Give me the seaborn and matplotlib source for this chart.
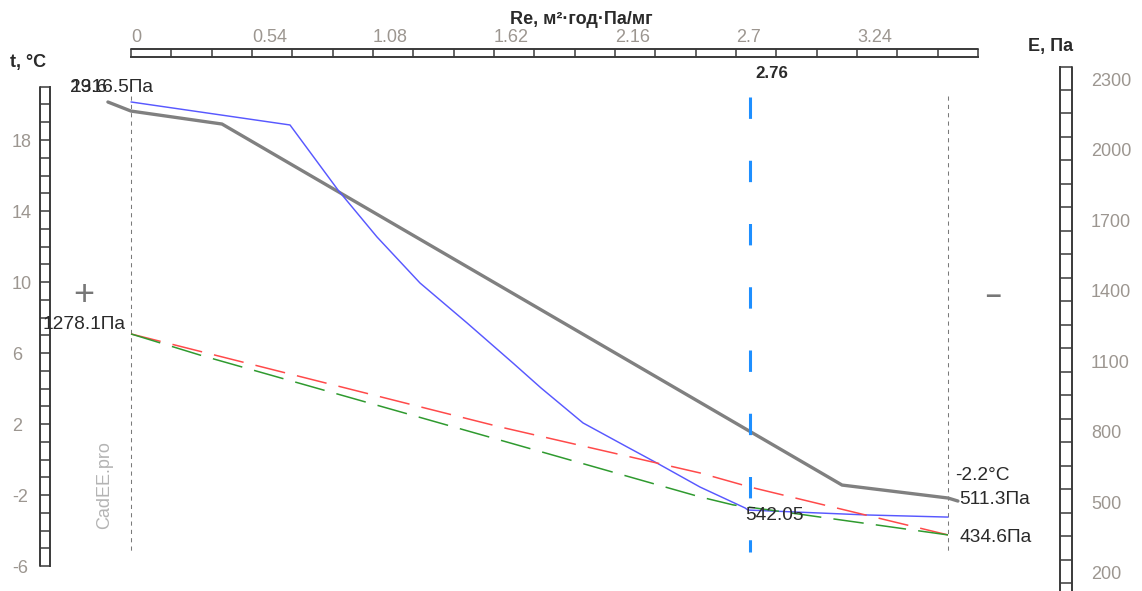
import numpy as np
import pandas as pd
import matplotlib
matplotlib.use("Agg")
import matplotlib.pyplot as plt
import matplotlib.transforms as mtransforms
from matplotlib.lines import Line2D
import seaborn as sns

# ---------------- data ----------------
# temperature profile t (°C) along Re
re_t = [-0.103, 0.0, 0.406, 3.173, 3.646, 3.690]
t_vals = [20.14, 19.63, 18.90, -1.44, -2.17, -2.34]

# saturation pressure E (Pa) along Re
re_e = [0.0, 0.7095, 0.9237, 1.0977, 1.2896, 1.4993, 1.7046, 1.8295,
        2.0170, 2.2133, 2.3472, 2.5391, 2.7399, 2.7532, 3.2843, 3.6457]
e_sat = [2249, 2151, 1874, 1674, 1478, 1308, 1137, 1031,
         882, 780, 711, 609, 520, 511, 490, 481]

# partial pressure (red) and its second curve (green)
re_red = [0.0, 1.6466, 2.539, 2.762, 3.6457]
e_red = [1261, 865, 669, 609, 405]
re_green = [0.0, 0.3079, 1.6466, 2.539, 2.6863, 3.6457]
e_green = [1261, 1171, 809, 567, 533, 405]

re_marker = 2.76
layer_bounds = [0.0, 3.6457]
guide_t = (20.5, -5.35)
marker_t = (20.42, -5.21)

x_ticks = [round(0.18 * i, 2) for i in range(22)]
x_labels = ["0", "0.54", "1.08", "1.62", "2.16", "2.7", "3.24"]
t_ticks = list(range(-6, 22))
t_labels = [18, 14, 10, 6, 2, -2, -6]
e_ticks = list(range(200, 2500, 100))
e_labels = [2300, 2000, 1700, 1400, 1100, 800, 500, 200]

# ---------------- style ----------------
sns.set_theme(style="white")
plt.rcParams["font.family"] = ["Liberation Sans", "DejaVu Sans"]

W, H = 1142, 591
fig = plt.figure(figsize=(W / 100, H / 100), dpi=100)

def fx(x):
    return x / W

def fy(y):
    return 1 - y / H

# axes box: left spine at x=50px, right at 980px, top at y=57px, bottom at 591px
ax = fig.add_axes([fx(50), 0, fx(980) - fx(50), fy(57)])
ax.set_xlim(-0.36145, 3.78849)
ax.set_ylim(-7.408, 22.676)
ax2 = ax.twinx()
ax2.set_ylim(166.2, 2440.5)

grey_txt = "#9c9690"
dark = "#2a2a2a"
ladder = "#3a3a3a"

# ---------------- lines ----------------
sns.lineplot(data=pd.DataFrame({"Re": re_t, "t": t_vals}), x="Re", y="t",
             ax=ax, sort=False, estimator=None, color="#808080", lw=2.4)
sns.lineplot(data=pd.DataFrame({"Re": re_e, "E": e_sat}), x="Re", y="E",
             ax=ax2, sort=False, estimator=None, color="#5858ff", lw=1.05)
sns.lineplot(data=pd.DataFrame({"Re": re_red, "E": e_red}), x="Re", y="E",
             ax=ax2, sort=False, estimator=None, color="#ff4a4a", lw=1.1,
             linestyle=(0, (20, 8)))
sns.lineplot(data=pd.DataFrame({"Re": re_green, "E": e_green}), x="Re", y="E",
             ax=ax2, sort=False, estimator=None, color="#2f9a2f", lw=1.1,
             linestyle=(0, (20, 8)))

for xb in layer_bounds:
    ax.plot([xb, xb], list(guide_t), color="#7a7a7a", lw=0.75,
            linestyle=(0, (4, 4)), zorder=1)
ax.plot([re_marker, re_marker], list(marker_t), color="#1e8fff", lw=2.2,
        linestyle=(0, (7, 13.7)), solid_capstyle="butt", dash_capstyle="butt")

for a in (ax, ax2):
    a.set_xlabel("")
    a.set_ylabel("")
    a.grid(False)

# ---------------- ruler axes ----------------
for s in ("bottom", "right"):
    ax.spines[s].set_visible(False)
for s in ("bottom", "left", "top"):
    ax2.spines[s].set_visible(False)

ax.spines["left"].set_bounds(-6, 21)
ax.spines["top"].set_bounds(0, 3.78)
for s in ("left", "top"):
    ax.spines[s].set_color(ladder)
    ax.spines[s].set_linewidth(1.4)
ax2.spines["right"].set_position(("outward", 80 * 0.72))
ax2.spines["right"].set_bounds(166.2, 2400)
ax2.spines["right"].set_color(ladder)
ax2.spines["right"].set_linewidth(1.4)

ax.xaxis.tick_top()
ax.set_xticks(x_ticks)
ax.set_xticklabels([s if s in x_labels else "" for s in
                    [("0" if v == 0 else ("%g" % v)) for v in x_ticks]])
ax.tick_params(axis="x", which="major", direction="out", length=8 * 0.72,
               width=1.1, color=ladder, pad=2, labelsize=13,
               labelcolor=grey_txt, top=True, bottom=False,
               labeltop=True, labelbottom=False)
for lab in ax.get_xticklabels():
    lab.set_ha("left")

ax.set_yticks(t_ticks)
ax.set_yticklabels([str(v) if v in t_labels else "" for v in t_ticks])
ax.tick_params(axis="y", direction="out", length=10 * 0.72, width=1.1,
               color=ladder, pad=28 * 0.72, labelsize=13,
               labelcolor=grey_txt, left=True, right=False)
for lab in ax.get_yticklabels():
    lab.set_ha("left")

ax2.set_yticks(e_ticks)
ax2.set_yticklabels([str(v) if v in e_labels else "" for v in e_ticks])
ax2.tick_params(axis="y", direction="out", length=12 * 0.72, width=1.1,
                color=ladder, pad=19 * 0.72, labelsize=13,
                labelcolor=grey_txt, right=True, left=False)
for lab in ax2.get_yticklabels():
    lab.set_va("bottom")

# second rails of the rulers
ax.add_artist(Line2D([0, 0], [-6, 21], color=ladder, lw=1.4, clip_on=False,
                     transform=mtransforms.offset_copy(ax.get_yaxis_transform(),
                                                       x=-10, y=0, units="dots")))
ax.add_artist(Line2D([0, 3.78], [1, 1], color=ladder, lw=1.4, clip_on=False,
                     transform=mtransforms.offset_copy(ax.get_xaxis_transform(),
                                                       x=0, y=8, units="dots")))
ax2.add_artist(Line2D([1, 1], [166.2, 2400], color=ladder, lw=1.4, clip_on=False,
                      transform=mtransforms.offset_copy(ax2.get_yaxis_transform(),
                                                        x=92, y=0, units="dots")))

# ---------------- texts ----------------
def txt(x, y, s, **kw):
    kw.setdefault("color", dark)
    kw.setdefault("fontsize", 13.8)
    kw.setdefault("va", "center")
    kw.setdefault("ha", "left")
    fig.text(fx(x), fy(y), s, **kw)

txt(581, 19, "Re, м²·год·Па/мг", ha="center", fontweight="bold", fontsize=13)
txt(10, 62, "t, °C", fontweight="bold", fontsize=13)
txt(1028, 46, "E, Па", fontweight="bold", fontsize=13)
txt(755, 73, "2.76", fontweight="bold", fontsize=12.2)
txt(70, 87, "19.6")
txt(70, 87, "2316.5Па")
txt(43, 325, "1278.1Па")
txt(745, 516, "542.05")
txt(955, 475, "-2.2°C")
txt(959, 499, "511.3Па")
txt(959, 537, "434.6Па")
txt(84, 296, "+", ha="center", fontsize=26, color="#777777")
txt(993, 296, "–", ha="center", fontsize=20, color="#777777", fontweight="bold")
txt(105, 485, "CadEE.pro", ha="center", rotation=90, fontsize=13,
    color="#b4b4b4")

fig.savefig("out.png", dpi=100)
